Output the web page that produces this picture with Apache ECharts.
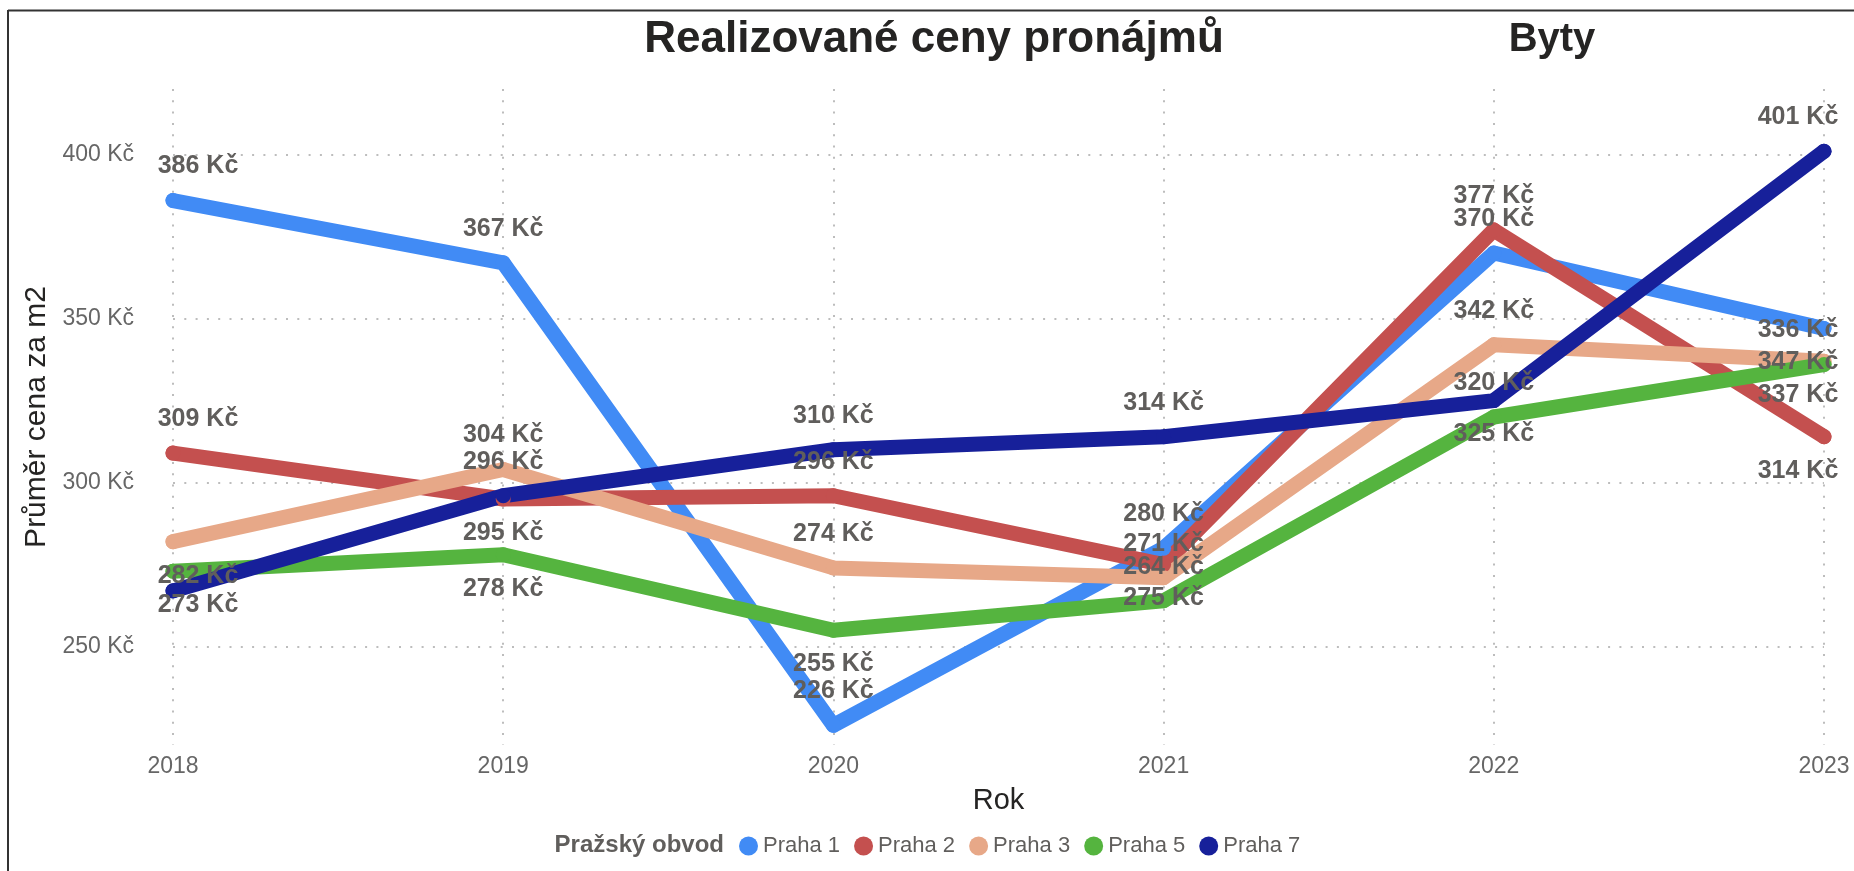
<!DOCTYPE html>
<html>
<head>
<meta charset="utf-8">
<title>Realizované ceny pronájmů</title>
<script src="https://cdn.jsdelivr.net/npm/echarts@6/dist/echarts.min.js"></script>
<style>
  html, body { margin: 0; padding: 0; background: #fff; }
  #chart { width: 1854px; height: 871px; }
</style>
</head>
<body>
<div id="chart"></div>
<script>
// data
const years = ["2018", "2019", "2020", "2021", "2022", "2023"];
const praha1 = [386, 367, 226, 280, 370, 347];
const praha2 = [309, 295, 296, 275, 377, 314];
const praha3 = [282, 304, 274, 271, 342, 337];
const praha5 = [273, 278, 255, 264, 320, 336];
const praha7 = [267, 296, 310, 314, 325, 401];
const yTicks = [250, 300, 350, 400];

const names = ["Praha 1", "Praha 2", "Praha 3", "Praha 5", "Praha 7"];
const values = [praha1, praha2, praha3, praha5, praha7];
const colors = ["#418BF5", "#C4504F", "#E7A888", "#55B43F", "#17209A"];

// where each data label sits: t = above, b = below, "" = hidden
const labelSide = [
  ["t", "t", "t", "t", "t", "b"],
  ["t", "b", "t", "b", "t", "b"],
  ["b", "t", "t", "t", "t", "b"],
  ["b", "b", "b", "t", "t", "t"],
  ["", "t", "t", "t", "b", "t"],
];

const font = "Liberation Sans, Arial, sans-serif";
const grid = { left: 173, right: 30, top: 89, bottom: 126 };
const dotted = { color: "#bdbdbd", width: 2, type: [2, 9.3] };

const series = names.map((name, s) => ({
  name: name,
  type: "line",
  symbol: "circle",
  symbolSize: 15,
  lineStyle: { width: 15, color: colors[s], cap: "round", join: "round" },
  itemStyle: { color: colors[s] },
  label: {
    show: true,
    position: "inside",
    formatter: (p) => p.value + " Kč",
    fontFamily: font,
    fontWeight: "bold",
    fontSize: 25,
    color: "#605E5C",
  },
  data: values[s].map((v, i) => {
    const side = labelSide[s][i];
    let dx = 0;
    if (i === 0) dx = 25;
    if (i === years.length - 1) dx = -26;
    return {
      value: v,
      label: { show: side !== "", offset: [dx, side === "b" ? 34 : -34] },
    };
  }),
}));

const chart = echarts.init(document.getElementById("chart"));

const option = {
  animation: false,
  color: colors,
  grid: grid,
  xAxis: {
    type: "category",
    data: years,
    boundaryGap: false,
    axisLine: { show: false },
    axisTick: { show: false },
    axisLabel: { margin: 10, fontFamily: font, fontSize: 23, color: "#666" },
    splitLine: { show: true, lineStyle: dotted },
    name: "Rok",
    nameLocation: "middle",
    nameGap: 41,
    nameTextStyle: { fontFamily: font, fontSize: 29, color: "#252423" },
  },
  yAxis: {
    type: "value",
    min: 220,
    max: 420,
    axisLine: { show: false },
    axisTick: { show: false, customValues: yTicks },
    axisLabel: {
      customValues: yTicks,
      formatter: "{value} Kč",
      margin: 39,
      fontFamily: font,
      fontSize: 23,
      color: "#666",
    },
    splitLine: { show: true, lineStyle: dotted },
    name: "Průměr cena za m2",
    nameLocation: "middle",
    nameGap: 121,
    nameTextStyle: { fontFamily: font, fontSize: 30, color: "#252423" },
  },
  legend: {
    data: names,
    left: 734,
    top: 830,
    icon: "circle",
    itemWidth: 19,
    itemHeight: 19,
    itemGap: 14,
    textStyle: { fontFamily: font, fontSize: 22, color: "#605E5C" },
  },
  graphic: [
    // frame edges
    { type: "line", shape: { x1: 8, y1: 10.5, x2: 1854, y2: 10.5 }, style: { stroke: "#333", lineWidth: 2 } },
    { type: "line", shape: { x1: 8, y1: 10, x2: 8, y2: 871 }, style: { stroke: "#333", lineWidth: 2 } },
    {
      type: "text", x: 934, y: 40,
      style: { text: "Realizované ceny pronájmů", align: "center", verticalAlign: "middle",
        font: "bold 44px " + font, fill: "#252423" },
    },
    {
      type: "text", x: 1552, y: 40,
      style: { text: "Byty", align: "center", verticalAlign: "middle",
        font: "bold 40px " + font, fill: "#252423" },
    },
    {
      type: "text", x: 724, y: 845,
      style: { text: "Pražský obvod", align: "right", verticalAlign: "middle",
        font: "bold 24px " + font, fill: "#605E5C" },
    },
  ],
  series: series,
};

chart.setOption(option);
</script>
</body>
</html>
